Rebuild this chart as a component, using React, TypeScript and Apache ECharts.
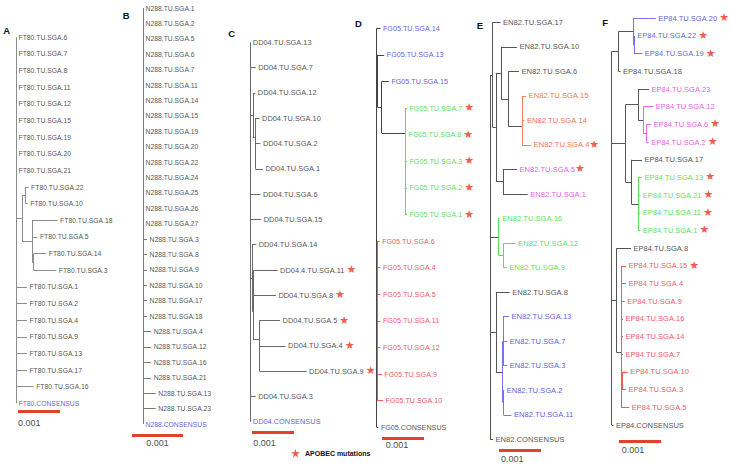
import React, { useEffect, useRef } from "react";
import * as echarts from "echarts";

// ---------------- DATA ----------------
// Newick trees, branch lengths in substitutions/site.
// Annotations: [&c=x] colours a clade (branches + labels) or a leaf label, [&l=x] colours labels only.
const TREE_A =
  "(FT80.TU.SGA.6:0,FT80.TU.SGA.7:0,FT80.TU.SGA.8:0,FT80.TU.SGA.11:0,FT80.TU.SGA.12:0,FT80.TU.SGA.15:0,FT80.TU.SGA.19:0,FT80.TU.SGA.20:0,FT80.TU.SGA.21:0,((FT80.TU.SGA.22:0.00007,FT80.TU.SGA.10:0.00005):0.00009,(FT80.TU.SGA.18:0.00061,FT80.TU.SGA.5:0.00013,(FT80.TU.SGA.14:0.0003,FT80.TU.SGA.3:0.00054):0.00004):0.00024):0.00014,FT80.TU.SGA.1:0.00026,FT80.TU.SGA.2:0.00026,FT80.TU.SGA.4:0.00026,FT80.TU.SGA.9:0.00026,FT80.TU.SGA.13:0.00026,FT80.TU.SGA.17:0.00026,FT80.TU.SGA.16:0.00042,FT80.CONSENSUS[&c=b]:0);";
const TREE_B =
  "(N288.TU.SGA.1:0,N288.TU.SGA.2:0,N288.TU.SGA.5:0,N288.TU.SGA.6:0,N288.TU.SGA.7:0,N288.TU.SGA.11:0,N288.TU.SGA.14:0,N288.TU.SGA.15:0,N288.TU.SGA.19:0,N288.TU.SGA.20:0,N288.TU.SGA.22:0,N288.TU.SGA.24:0,N288.TU.SGA.25:0,N288.TU.SGA.26:0,N288.TU.SGA.27:0,N288.TU.SGA.3:0.00008,N288.TU.SGA.8:0.00008,N288.TU.SGA.9:0.00008,N288.TU.SGA.10:0.00008,N288.TU.SGA.17:0.00008,N288.TU.SGA.18:0.00008,N288.TU.SGA.4:0.00016,N288.TU.SGA.12:0.00016,N288.TU.SGA.16:0.00016,N288.TU.SGA.21:0.00016,N288.TU.SGA.13:0.00025,N288.TU.SGA.23:0.00025,N288.CONSENSUS[&c=b]:0);";
const TREE_C =
  "(DD04.TU.SGA.13:0,DD04.TU.SGA.7:0.00013,(DD04.TU.SGA.12:0.00006,(DD04.TU.SGA.10:0.00011,(DD04.TU.SGA.2:0.00012,DD04.TU.SGA.1:0.00018):0.00001):0.00005):0.00006,DD04.TU.SGA.6:0.00024,DD04.TU.SGA.15:0.00026,(DD04.TU.SGA.14:0.0001,((DD04.4.TU.SGA.11:0.00058,DD04.TU.SGA.8:0.00054):0.00001,(DD04.TU.SGA.5:0.0005,(DD04.TU.SGA.4:0.00062,DD04.TU.SGA.9:0.00112):0.00001):0.00015):0.00002):0.00004,DD04.TU.SGA.3:0.00013,DD04.CONSENSUS[&c=b]:0);";
const TREE_D =
  "(FG05.TU.SGA.14[&c=b]:0.00009,(FG05.TU.SGA.13[&c=b]:0.00016,(FG05.TU.SGA.15[&c=b]:0.00017,(FG05.TU.SGA.7:0.00005,(FG05.TU.SGA.8:0.00003,(FG05.TU.SGA.3:0.00005,(FG05.TU.SGA.2:0.00005,FG05.TU.SGA.1:0.00005):0):0):0)[&c=g]:0.00055):0.0001):0.00002,(FG05.TU.SGA.6:0.00005,FG05.TU.SGA.4:0.00007,FG05.TU.SGA.5:0.00007,FG05.TU.SGA.11:0.00007,FG05.TU.SGA.12:0.00007,FG05.TU.SGA.9:0.0001,FG05.TU.SGA.10:0.00013)[&c=r]:0.00002,FG05.CONSENSUS:0.00004);";
const TREE_E =
  "((EN82.TU.SGA.17:0.00019,((EN82.TU.SGA.10:0.00038,(EN82.TU.SGA.6:0.00025,((EN82.TU.SGA.15:0.00009,EN82.TU.SGA.14:0.00005):0.00001,EN82.TU.SGA.4:0.00022)[&c=o]:0.00032):0.00018):0.00012,(EN82.TU.SGA.5:0.00033,EN82.TU.SGA.1:0.00059)[&l=m]:0.00017):0.00008):0.00006,(EN82.TU.SGA.16:0.00003,(EN82.TU.SGA.12:0.00029,EN82.TU.SGA.9:0.00008):0.00012)[&c=g]:0.0002,(EN82.TU.SGA.8:0.00033,((EN82.TU.SGA.13:0.00014,EN82.TU.SGA.7:0.0001,EN82.TU.SGA.3:0.0001):0.00001,(EN82.TU.SGA.2:0.00002,EN82.TU.SGA.11:0.00019):0.00002)[&c=b]:0.00016):0.00014,EN82.CONSENSUS:0.00007);";
const TREE_F =
  "(((EP84.TU.SGA.20:0.00053,(EP84.TU.SGA.22:0.00002,EP84.TU.SGA.19:0.0002):0.00001)[&c=b]:0.00036,EP84.TU.SGA.18:0.00005):0.00016,((EP84.TU.SGA.23:0.00026,(EP84.TU.SGA.12:0.00024,(EP84.TU.SGA.6:0.00011,EP84.TU.SGA.2:0.00005):0.00008)[&c=m]:0.00012)[&l=m]:0.0003,(EP84.TU.SGA.17:0.00025,(EP84.TU.SGA.13:0.00009,EP84.TU.SGA.21:0.00005,EP84.TU.SGA.11:0.00005,EP84.TU.SGA.1:0.00005)[&c=g]:0.00016):0.00014):0.00033,(EP84.TU.SGA.8:0.00035,((EP84.TU.SGA.15:0.00012,EP84.TU.SGA.4:0.00012,EP84.TU.SGA.9:0.00009,EP84.TU.SGA.16:0.00005,EP84.TU.SGA.14:0.00005,EP84.TU.SGA.7:0.00005):0,((EP84.TU.SGA.10:0.00014,EP84.TU.SGA.3:0.0001):0.00002,EP84.TU.SGA.5:0.0002):0)[&c=r]:0.00011):0.00011,EP84.CONSENSUS:0.00004);";

// Sequences carrying APOBEC mutations
const STARS_A: string[] = [];
const STARS_B: string[] = [];
const STARS_C = ["DD04.4.TU.SGA.11", "DD04.TU.SGA.8", "DD04.TU.SGA.5", "DD04.TU.SGA.4", "DD04.TU.SGA.9"];
const STARS_D = ["FG05.TU.SGA.7", "FG05.TU.SGA.8", "FG05.TU.SGA.3", "FG05.TU.SGA.2", "FG05.TU.SGA.1"];
const STARS_E = ["EN82.TU.SGA.4", "EN82.TU.SGA.5"];
const STARS_F = [
  "EP84.TU.SGA.20", "EP84.TU.SGA.22", "EP84.TU.SGA.19", "EP84.TU.SGA.6", "EP84.TU.SGA.2",
  "EP84.TU.SGA.13", "EP84.TU.SGA.21", "EP84.TU.SGA.11", "EP84.TU.SGA.1", "EP84.TU.SGA.15",
];

const SCALE_BAR = 0.001;
const SCALE_LABEL = "0.001";
const LEGEND_LABEL = "APOBEC mutations";

// ---------------- STYLE / LAYOUT ----------------
const TEXT_COLORS: Record<string, string> = {
  k: "#1c1c1c",
  b: "#3434dc",
  g: "#2fd42f",
  r: "#f02838",
  o: "#f04a24",
  m: "#e030d8",
};
const LINE_COLORS: Record<string, string> = {
  b: "#7474f0",
  g: "#58e058",
  r: "#f05a5a",
  o: "#f58260",
  m: "#e866e2",
};
const STAR_RED = "#e8321e";
const BAR_RED = "#e2412a";
const STAR_PATH =
  "path://M50,0 L61,35 L98,35 L68,57 L79,91 L50,70 L21,91 L32,57 L2,35 L39,35 Z";
const X_MIN = -0.0003;
const X_MAX = 0.0027;
const FONT = "'Liberation Sans', Arial, sans-serif";

type Panel = {
  letter: string; tree: string; stars: string[];
  rootX: number; firstY: number; lastY: number; pxPerBar: number; font: number; line: string;
  lx: number; ly: number;
  bar: { dx: number; y: number; tx: number; ty: number; center: boolean };
  starGap: string;
};

const PANELS: Panel[] = [
  { letter: "A", tree: TREE_A, stars: STARS_A, rootX: 16, firstY: 37.3, lastY: 403.3, pxPerBar: 42, font: 6.8, line: "#8c8c8c", lx: 3.3, ly: 30.5, bar: { dx: 2, y: 411.7, tx: 2, ty: 423, center: false }, starGap: " " },
  { letter: "B", tree: TREE_B, stars: STARS_B, rootX: 143, firstY: 8, lastY: 424, pxPerBar: 51, font: 6.8, line: "#7a7a7a", lx: 122.7, ly: 15.8, bar: { dx: -11, y: 435.7, tx: 14.5, ty: 443, center: true }, starGap: " " },
  { letter: "C", tree: TREE_C, stars: STARS_C, rootX: 250.3, firstY: 42.3, lastY: 421.8, pxPerBar: 42, font: 7.4, line: "#6a6a6a", lx: 228.3, ly: 33.7, bar: { dx: 1.7, y: 432, tx: 3, ty: 443, center: false }, starGap: " " },
  { letter: "D", tree: TREE_D, stars: STARS_D, rootX: 376.7, firstY: 28.3, lastY: 427.3, pxPerBar: 42, font: 7.2, line: "#444444", lx: 355, ly: 23.7, bar: { dx: 5.3, y: 438.3, tx: 9, ty: 445, center: false }, starGap: " " },
  { letter: "E", tree: TREE_E, stars: STARS_E, rootX: 490, firstY: 22.3, lastY: 439.3, pxPerBar: 42, font: 7.6, line: "#555555", lx: 476.7, ly: 25.5, bar: { dx: 9, y: 450, tx: 11, ty: 459, center: false }, starGap: "" },
  { letter: "F", tree: TREE_F, stars: STARS_F, rootX: 611.7, firstY: 18.3, lastY: 425, pxPerBar: 42, font: 7.5, line: "#555555", lx: 602.3, ly: 22.5, bar: { dx: 7.3, y: 441, tx: 10, ty: 450, center: false }, starGap: " " },
];

// ---------------- TREE HELPERS ----------------
type TNode = { name: string; len: number; children: TNode[]; ann: Record<string, string>; x: number; y: number };

function parseNewick(src: string): TNode {
  let i = 0;
  const parseNode = (): TNode => {
    const node: TNode = { name: "", len: 0, children: [], ann: {}, x: 0, y: 0 };
    if (src[i] === "(") {
      i++;
      node.children.push(parseNode());
      while (src[i] === ",") {
        i++;
        node.children.push(parseNode());
      }
      i++; // ')'
    }
    let name = "";
    while (i < src.length && "(),:;[".indexOf(src[i]) < 0) name += src[i++];
    node.name = name.trim();
    if (src[i] === "[") {
      const end = src.indexOf("]", i);
      src
        .slice(i + 2, end)
        .split(",")
        .forEach((kv) => {
          const [k, v] = kv.split("=");
          node.ann[k] = v;
        });
      i = end + 1;
    }
    if (src[i] === ":") {
      i++;
      let num = "";
      while (i < src.length && "(),;[".indexOf(src[i]) < 0) num += src[i++];
      node.len = parseFloat(num);
    }
    return node;
  };
  return parseNode();
}

function layoutTree(root: TNode, lineColor: string) {
  const leaves: { name: string; x: number; y: number; color: string }[] = [];
  const segs: { coords: number[][]; color: string }[] = [];
  let row = 0;
  const walk = (n: TNode, x: number, inner: string, lab: string) => {
    n.x = x;
    const myInner = n.ann.c ? LINE_COLORS[n.ann.c] : inner;
    const myLab = n.ann.c ? TEXT_COLORS[n.ann.c] : n.ann.l ? TEXT_COLORS[n.ann.l] : lab;
    if (!n.children.length) {
      n.y = row++;
      leaves.push({ name: n.name, x, y: n.y, color: myLab });
      return;
    }
    n.children.forEach((ch) => walk(ch, x + ch.len, myInner, myLab));
    const y0 = n.children[0].y;
    const y1 = n.children[n.children.length - 1].y;
    n.y = (y0 + y1) / 2;
    segs.push({ coords: [[x, y0], [x, y1]], color: myInner });
    n.children.forEach((ch) => {
      if (ch.x > x) segs.push({ coords: [[x, ch.y], [ch.x, ch.y]], color: myInner });
    });
  };
  walk(root, 0, lineColor, TEXT_COLORS.k);
  return { leaves, segs, rows: row };
}

function buildOption() {
  const grid: any[] = [];
  const xAxis: any[] = [];
  const yAxis: any[] = [];
  const series: any[] = [];
  const graphic: any[] = [];

  PANELS.forEach((p, i) => {
    const { leaves, segs, rows } = layoutTree(parseNewick(p.tree), p.line);
    const pxPerUnit = p.pxPerBar / SCALE_BAR;
    const spacing = (p.lastY - p.firstY) / (rows - 1);
    grid.push({
      left: p.rootX + X_MIN * pxPerUnit,
      top: p.firstY,
      width: (X_MAX - X_MIN) * pxPerUnit,
      height: p.lastY - p.firstY,
      containLabel: false,
    });
    xAxis.push({ type: "value", gridIndex: i, min: X_MIN, max: X_MAX, show: false });
    yAxis.push({ type: "value", gridIndex: i, min: 0, max: rows - 1, inverse: true, show: false });

    series.push({
      type: "lines",
      coordinateSystem: "cartesian2d",
      xAxisIndex: i,
      yAxisIndex: i,
      silent: true,
      clip: false,
      polyline: false,
      lineStyle: { width: 1, opacity: 1, curveness: 0 },
      data: segs.map((s) => ({ coords: s.coords, lineStyle: { color: s.color, width: 1, opacity: 1 } })),
    });

    const stars = p.stars;
    series.push({
      type: "scatter",
      xAxisIndex: i,
      yAxisIndex: i,
      silent: true,
      clip: false,
      symbolSize: 0,
      data: leaves.map((l) => ({ value: [l.x, l.y], name: l.name, label: { color: l.color } })),
      label: {
        show: true,
        position: "right",
        distance: 2.5,
        fontSize: p.font,
        fontFamily: FONT,
        formatter: (prm: any) =>
          stars.indexOf(prm.name) >= 0 ? `${prm.name}${p.starGap}{s|★}` : prm.name,
        rich: { s: { color: STAR_RED, fontSize: 11, fontFamily: "DejaVu Sans", padding: [0, 0, 1, 0] } },
      },
    });

    const barX0 = p.bar.dx / pxPerUnit;
    const barRow = rows - 1 + (p.bar.y - p.lastY) / spacing;
    series.push({
      type: "lines",
      coordinateSystem: "cartesian2d",
      xAxisIndex: i,
      yAxisIndex: i,
      silent: true,
      clip: false,
      lineStyle: { color: BAR_RED, width: 3, opacity: 1 },
      data: [{ coords: [[barX0, barRow], [barX0 + SCALE_BAR, barRow]] }],
    });
    series.push({
      type: "scatter",
      xAxisIndex: i,
      yAxisIndex: i,
      silent: true,
      clip: false,
      symbolSize: 0,
      data: [{ value: [p.bar.tx / pxPerUnit, rows - 1 + (p.bar.ty - p.lastY) / spacing], name: SCALE_LABEL }],
      label: {
        show: true,
        position: p.bar.center ? "inside" : "right",
        distance: 0,
        formatter: SCALE_LABEL,
        fontSize: 9,
        fontFamily: FONT,
        color: "#111",
      },
    });

    graphic.push({
      type: "text",
      x: p.lx,
      y: p.ly,
      silent: true,
      style: {
        text: p.letter,
        fill: "#111",
        font: `bold 9.5px ${FONT}`,
        align: "left",
        verticalAlign: "middle",
      },
    });
  });

  series.push({
    type: "scatter",
    name: LEGEND_LABEL,
    xAxisIndex: 0,
    yAxisIndex: 0,
    symbol: STAR_PATH,
    symbolSize: 9,
    itemStyle: { color: STAR_RED },
    data: [],
  });

  return {
    animation: false,
    backgroundColor: "#ffffff",
    grid,
    xAxis,
    yAxis,
    series,
    graphic,
    legend: {
      data: [{ name: LEGEND_LABEL, icon: STAR_PATH }],
      left: 291,
      top: 449,
      padding: 0,
      itemWidth: 9,
      itemHeight: 9,
      selectedMode: false,
      textStyle: { fontSize: 7, fontWeight: "bold", color: "#111", fontFamily: FONT },
    },
  };
}

export default function App() {
  const ref = useRef<HTMLDivElement | null>(null);
  useEffect(() => {
    if (!ref.current) return;
    const chart = echarts.init(ref.current, null, { renderer: "svg" });
    chart.setOption(buildOption() as any);
    return () => chart.dispose();
  }, []);
  return (
    <div
      ref={ref}
      style={{ position: "absolute", left: 0, top: 0, width: 730, height: 466, background: "#fff" }}
    />
  );
}
